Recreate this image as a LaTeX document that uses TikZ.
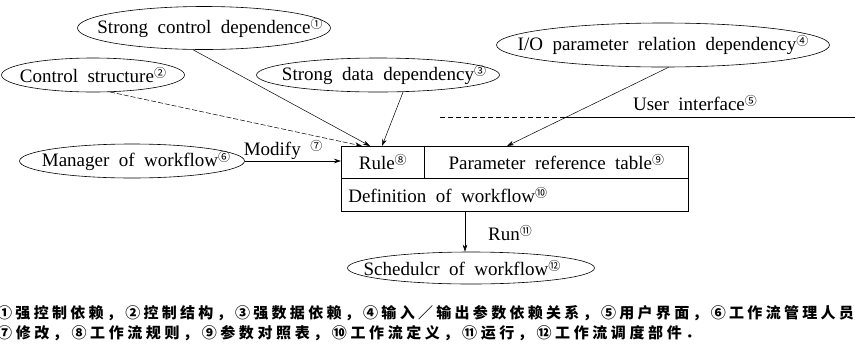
\documentclass[tikz,border=0pt]{standalone}
\usepackage{fontspec}
\setmainfont{Liberation Serif}
\newfontfamily\cjk{Noto Sans CJK SC}
\newfontfamily\cjkwide[LetterSpace=22]{Noto Sans CJK SC}
\newfontfamily\cjknarrow[LetterSpace=24]{Noto Sans CJK SC}
\usetikzlibrary{shapes.geometric,arrows.meta}
\newcommand{\cnum}[1]{\raisebox{5pt}{\fontsize{12}{12}\selectfont\cjk #1}}
\newcommand{\labelfont}{\fontsize{19}{22}\selectfont\spaceskip 0.5em\relax}
\newcommand{\etext}[1]{\makebox[0pt][c]{\labelfont #1}}
\begin{document}
\begin{tikzpicture}[x=1pt,y=-1pt,
  every node/.style={font=\labelfont},
  ell/.style={draw, ellipse, inner sep=0pt, line width=0.6pt},
  cell/.style={draw, rectangle, inner sep=0pt, line width=0.6pt, anchor=north west},
  conn/.style={-{Stealth[length=7pt,width=4.5pt]}, line width=0.5pt},
  lbl/.style={inner sep=1pt},
  captext/.style={anchor=west, inner sep=0pt, font=\fontsize{15}{18}\selectfont\bfseries}]
\useasboundingbox (0,0) rectangle (855,349);
% ellipses
\node[ell, minimum width=253, minimum height=43] (sc) at (204,28) {\etext{\hspace*{12pt}Strong control dependence\cnum{①}}};
\node[ell, minimum width=183, minimum height=34] (cs) at (93,75) {\etext{Control structure\cnum{②}}};
\node[ell, minimum width=243, minimum height=34] (sd) at (378,75) {\etext{\hspace*{12pt}Strong data dependency\cnum{③}}};
\node[ell, minimum width=333, minimum height=44] (io) at (663,45) {\etext{I/O parameter relation dependency\cnum{④}}};
\node[ell, minimum width=225, minimum height=34] (mw) at (132,161) {\etext{\hspace*{8pt}Manager of workflow\cnum{⑥}}};
\node[ell, minimum width=247, minimum height=32] (sch) at (471,268) {\etext{\hspace*{-18pt}Schedulcr of workflow\cnum{⑫}}};
% box
\node[cell, minimum width=83, minimum height=32] (rule) at (341,146) {Rule\cnum{⑧}};
\node[cell, minimum width=264, minimum height=32] (param) at (424,146) {Parameter reference table\cnum{⑨}};
\node[cell, minimum width=347, minimum height=33, text width=333, inner xsep=7pt, align=left] (def) at (341,178) {\labelfont Definition of workflow\cnum{⑩}};
% target coordinates on the box
\coordinate (tcs) at (362,146);
\coordinate (tsc) at (370,146);
\coordinate (tsd) at (382,146);
\coordinate (tio) at (507,146);
\coordinate (rs) at (465,211);
% connectors
\draw[conn] (sc.243) -- (tsc);
\draw[conn, dashed, dash pattern=on 5pt off 2pt] (cs.315) -- (tcs);
\draw[conn] (sd.326) -- (tsd);
\draw[conn] (io.284) -- (tio);
\draw[conn] (mw.east) -- (mw.east -| rule.west);
\draw[conn] (rs) -- (rs |- sch.north);
% user interface line
\coordinate (ua) at (440,117);
\coordinate (ub) at (560,117);
\coordinate (uc) at (855,117);
\draw[line width=0.5pt, dashed, dash pattern=on 5pt off 3pt] (ua) -- (ub);
\draw[line width=0.5pt] (ub) -- (uc);
% labels
\node[lbl] (ui) at (695,103) {User interface\cnum{⑤}};
\node[lbl] (mod) at (283,150) {Modify \cnum{⑦}};
\node[lbl] (run) at (510,233) {Run\cnum{⑪}};
% caption
\node[captext] (c1) at (-3,313) {\cjkwide ①强控制依赖，②控制结构，③强数据依赖，④输入／输出参数依赖关系，⑤用户界面，⑥工作流管理人员};
\node[captext] (c2) at (-3,333) {\cjknarrow ⑦修改，⑧工作流规则，⑨参数对照表，⑩工作流定义，⑪运行，⑫工作流调度部件．};
\end{tikzpicture}
\end{document}
